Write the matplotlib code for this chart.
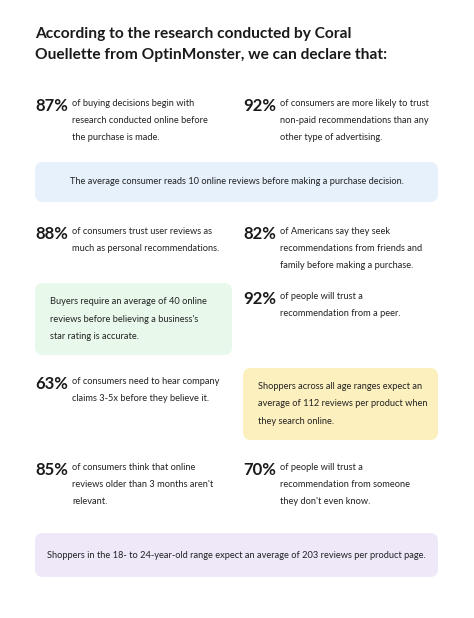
import matplotlib.pyplot as plt
from matplotlib.patches import FancyBboxPatch

plt.rcParams['font.family'] = ['Lato', 'DejaVu Sans']

title = "According to the research conducted by Coral\nOuellette from OptinMonster, we can declare that:"

# (percent, text, column, row top)
stat_pct = ["87%", "92%", "88%", "82%", "92%", "63%", "85%", "70%"]
stat_text = [
    "of buying decisions begin with\nresearch conducted online before\nthe purchase is made.",
    "of consumers are more likely to trust\nnon-paid recommendations than any\nother type of advertising.",
    "of consumers trust user reviews as\nmuch as personal recommendations.",
    "of Americans say they seek\nrecommendations from friends and\nfamily before making a purchase.",
    "of people will trust a\nrecommendation from a peer.",
    "of consumers need to hear company\nclaims 3-5x before they believe it.",
    "of consumers think that online\nreviews older than 3 months aren't\nrelevant.",
    "of people will trust a\nrecommendation from someone\nthey don't even know.",
]
stat_col = [0, 1, 0, 1, 1, 0, 0, 1]
stat_y = [104, 104, 232, 232, 297, 382, 468, 468]

box_text = [
    "The average consumer reads 10 online reviews before making a purchase decision.",
    "Buyers require an average of 40 online\nreviews before believing a business's\nstar rating is accurate.",
    "Shoppers across all age ranges expect an\naverage of 112 reviews per product when\nthey search online.",
    "Shoppers in the 18- to 24-year-old range expect an average of 203 reviews per product page.",
]
box_color = ["#e6f1fc", "#e8f9ec", "#fdf0bf", "#eee8f9"]
box_rect = [(35, 162, 403, 40), (35, 283, 197, 72), (243, 368, 195, 72), (35, 533, 403, 44)]
box_center = [True, False, False, True]

fig = plt.figure(figsize=(4.74, 6.18), dpi=100)
ax = fig.add_axes([0, 0, 1, 1])
ax.set_xlim(0, 474)
ax.set_ylim(618, 0)
ax.axis('off')

ax.text(35, 27, title, fontsize=11.2, fontweight='bold', color='#1a1a1a',
        va='top', ha='left', linespacing=1.6)

col_x = [35, 243]
for pct, txt, c, y in zip(stat_pct, stat_text, stat_col, stat_y):
    ax.text(col_x[c], y + 2, pct, fontsize=12, fontweight='bold', color='#1a1a1a', va='center')
    ax.text(col_x[c] + 37, y - 5, txt, fontsize=6.7, color='#222222', va='top', linespacing=2.15)

for txt, col, (x, y, w, h), cen in zip(box_text, box_color, box_rect, box_center):
    ax.add_patch(FancyBboxPatch((x, y), w, h, boxstyle="round,pad=0,rounding_size=8",
                                fc=col, ec='none'))
    if cen:
        ax.text(x + w / 2, y + h / 2, txt, fontsize=6.7, color='#222222', ha='center', va='center')
    else:
        ax.text(x + 15, y + h / 2, txt, fontsize=6.7, color='#222222', ha='left', va='center',
                linespacing=2.15)

fig.savefig('out.png', dpi=100, facecolor='white')
